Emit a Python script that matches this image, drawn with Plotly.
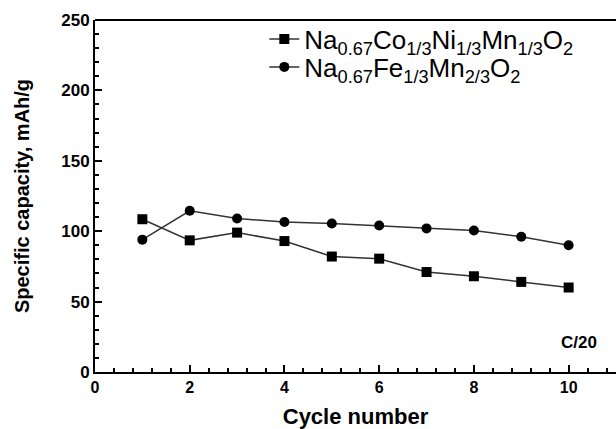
import plotly.graph_objects as go

cycles = [1, 2, 3, 4, 5, 6, 7, 8, 9, 10]
cap_coni = [108.5, 93.5, 99, 93, 82, 80.5, 71, 68, 64, 60]
cap_fe = [94, 114.5, 109, 106.5, 105.5, 104, 102, 100.5, 96, 90]

name_coni = "Na<sub>0.67</sub>Co<sub>1/3</sub>Ni<sub>1/3</sub>Mn<sub>1/3</sub>O<sub>2</sub>"
name_fe = "Na<sub>0.67</sub>Fe<sub>1/3</sub>Mn<sub>2/3</sub>O<sub>2</sub>"

FONT = "Liberation Sans, Arial, sans-serif"

fig = go.Figure()
fig.add_trace(go.Scatter(x=cycles, y=cap_coni, mode="lines+markers", name=name_coni,
                         line=dict(color="#333333", width=1.5),
                         marker=dict(symbol="square", size=10, color="black"),
                         legend="legend"))
fig.add_trace(go.Scatter(x=cycles, y=cap_fe, mode="lines+markers", name=name_fe,
                         line=dict(color="#333333", width=1.5),
                         marker=dict(symbol="circle", size=10, color="black"),
                         legend="legend2"))

leg_common = dict(xanchor="left", yanchor="middle", bgcolor="rgba(0,0,0,0)", borderwidth=0,
                  font=dict(size=26, family=FONT, color="black"))

fig.update_layout(
    width=616, height=429,
    margin=dict(l=95, r=0, t=20, b=57),
    paper_bgcolor="white", plot_bgcolor="white",
    font=dict(family=FONT, color="black"),
    showlegend=True,
    legend=dict(x=0.325, y=1 - (39 - 20) / 352, **leg_common),
    legend2=dict(x=0.325, y=1 - (67 - 20) / 352, **leg_common),
    xaxis=dict(range=[0, 11], tickmode="linear", tick0=0, dtick=2,
               ticks="inside", ticklen=7, tickwidth=2, tickcolor="black",
               minor=dict(ticks="inside", ticklen=4, tickwidth=2, tickcolor="black", dtick=0.4, tick0=0),
               showline=True, linewidth=2, linecolor="black", mirror=False,
               showgrid=False, zeroline=False,
               tickfont=dict(size=16, family=FONT, weight="bold"),
               title=dict(text="<b>Cycle number</b>", font=dict(size=22, family=FONT), standoff=16)),
    yaxis=dict(range=[0, 250], tickmode="linear", tick0=0, dtick=50,
               ticks="inside", ticklen=7, tickwidth=2, tickcolor="black",
               minor=dict(ticks="inside", ticklen=4, tickwidth=2, tickcolor="black", dtick=10, tick0=0),
               showline=True, linewidth=2, linecolor="black", mirror=False,
               showgrid=False, zeroline=False,
               tickfont=dict(size=17, family=FONT, weight="bold"),
               title=dict(text="<b>Specific capacity, mAh/g</b>", font=dict(size=20, family=FONT), standoff=26)),
)

fig.add_shape(type="line", xref="paper", yref="paper", x0=0, x1=1, y0=1, y1=1,
              line=dict(color="black", width=2))
fig.add_annotation(x=10.22, y=21, xref="x", yref="y", text="<b>C/20</b>", showarrow=False,
                   font=dict(size=17, family=FONT, color="black"))

fig.write_html("out.html")
